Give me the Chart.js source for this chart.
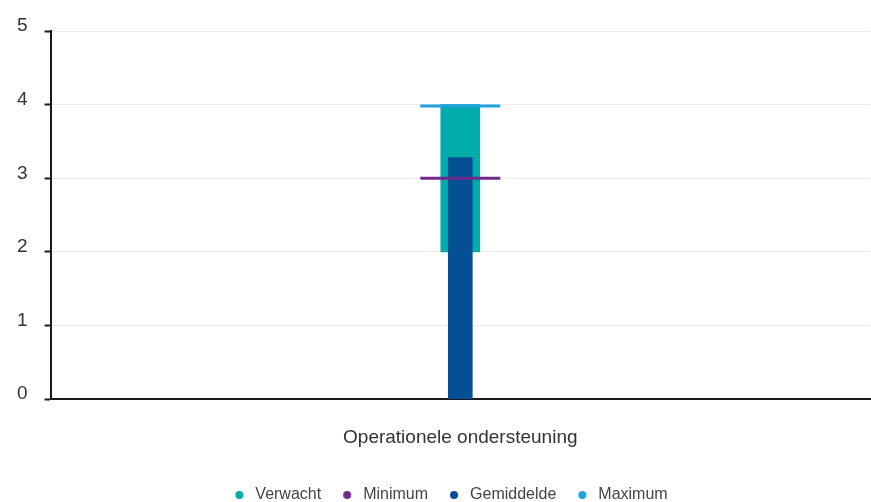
<!DOCTYPE html>
<html>
<head>
<meta charset="utf-8">
<script src="https://cdn.jsdelivr.net/npm/chart.js@4.4.1/dist/chart.umd.min.js"></script>
<style>
  html, body { margin: 0; padding: 0; background: #fff; }
  #wrap { width: 871px; height: 502px; }
</style>
</head>
<body>
<div id="wrap"><canvas id="scoreChart"></canvas></div>
<script>
const categorieen = ['Operationele ondersteuning'];
const verwacht = [[2, 4]];
const minimum = [3];
const gemiddelde = [3.28];
const maximum = [3.98];
const yTicks = [0, 1, 2, 3, 4, 5];

const kleuren = {
    verwacht: '#00aca9',
    minimum: '#72298b',
    gemiddelde: '#054f94',
    maximum: '#1ea2de'
};

const fontFamily = "'Liberation Sans', Arial, sans-serif";

// Klein rondje voor de legenda, iets naar rechts in een breder vak
function legendaBol(kleur) {
    const c = document.createElement('canvas');
    c.width = 23;
    c.height = 8;
    const g = c.getContext('2d');
    g.fillStyle = kleur;
    g.beginPath();
    g.arc(15, 4, 4, 0, Math.PI * 2);
    g.fill();
    return c;
}

// Legenda een stukje naar rechts schuiven
const legendaVerschuiving = {
    id: 'legendaVerschuiving',
    afterLayout(chart) {
        const lg = chart.legend;
        if (lg) {
            lg.left += 11;
            lg.right += 11;
        }
    }
};

const ctx = document.getElementById('scoreChart').getContext('2d');
new Chart(ctx, {
    type: 'bar',
    data: {
        labels: categorieen,
        datasets: [
            {
                label: 'Verwacht',
                data: verwacht,
                backgroundColor: kleuren.verwacht,
                barThickness: 39,
                grouped: false,
                order: 4
            },
            {
                type: 'line',
                label: 'Minimum',
                data: minimum,
                showLine: false,
                borderColor: kleuren.minimum,
                backgroundColor: kleuren.minimum,
                pointStyle: 'line',
                pointRadius: 40,
                pointHoverRadius: 40,
                pointBorderWidth: 3,
                order: 2
            },
            {
                label: 'Gemiddelde',
                data: gemiddelde,
                backgroundColor: kleuren.gemiddelde,
                barThickness: 24,
                grouped: false,
                order: 3
            },
            {
                type: 'line',
                label: 'Maximum',
                data: maximum,
                showLine: false,
                borderColor: kleuren.maximum,
                backgroundColor: kleuren.maximum,
                pointStyle: 'line',
                pointRadius: 40,
                pointHoverRadius: 40,
                pointBorderWidth: 3,
                order: 1
            }
        ]
    },
    plugins: [legendaVerschuiving],
    options: {
        responsive: true,
        maintainAspectRatio: false,
        animation: false,
        layout: {
            autoPadding: false,
            padding: { left: 0, right: 1, top: 31, bottom: -11 }
        },
        plugins: {
            tooltip: { enabled: false },
            legend: {
                position: 'bottom',
                labels: {
                    usePointStyle: true,
                    pointStyleWidth: 23,
                    boxWidth: 6,
                    boxHeight: 6,
                    padding: 11,
                    color: '#444',
                    font: { family: fontFamily, size: 16 },
                    sort: (a, b) => a.datasetIndex - b.datasetIndex,
                    generateLabels: (chart) => {
                        const items = Chart.defaults.plugins.legend.labels.generateLabels(chart);
                        return items.map(item => {
                            const ds = chart.data.datasets[item.datasetIndex];
                            item.fillStyle = ds.backgroundColor;
                            item.strokeStyle = ds.backgroundColor;
                            item.lineWidth = 0;
                            item.pointStyle = legendaBol(ds.backgroundColor);
                            return item;
                        });
                    }
                }
            }
        },
        scales: {
            x: {
                grid: { display: false, drawTicks: false },
                border: { display: true, color: '#1a1a1a', width: 2 },
                ticks: {
                    color: '#333',
                    padding: 27,
                    font: { family: fontFamily, size: 19 }
                }
            },
            y: {
                min: 0,
                max: 5,
                afterBuildTicks: (axis) => {
                    axis.ticks = yTicks.map(v => ({ value: v }));
                },
                grid: {
                    color: '#ebebeb',
                    lineWidth: 1,
                    tickLength: 6,
                    tickColor: '#1a1a1a',
                    tickWidth: 2
                },
                border: { display: true, color: '#1a1a1a', width: 2 },
                ticks: {
                    color: '#333',
                    padding: 17,
                    labelOffset: -5,
                    font: { family: fontFamily, size: 19 }
                }
            }
        }
    }
});
</script>
</body>
</html>
